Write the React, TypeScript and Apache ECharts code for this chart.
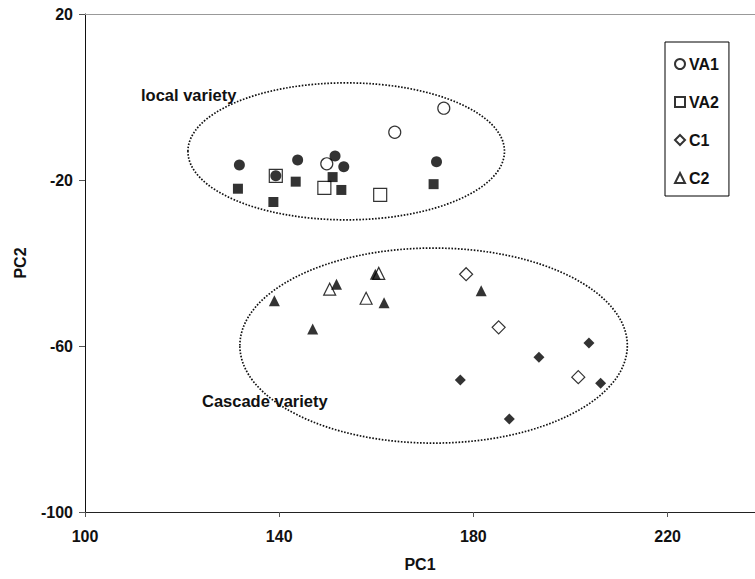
import React, { useEffect, useRef } from "react";
import * as echarts from "echarts";

// PC1, PC2 values
const va1Open: number[][] = [[173.9, -2.7], [163.8, -8.5], [149.8, -16.1]];
const va1Filled: number[][] = [[131.8, -16.4], [139.3, -19.0], [143.8, -15.2], [151.5, -14.2], [153.3, -16.8], [172.4, -15.6]];
const va2Open: number[][] = [[139.3, -19.0], [149.3, -21.9], [160.8, -23.6]];
const va2Filled: number[][] = [[131.5, -22.1], [143.4, -20.4], [138.8, -25.3], [151.0, -19.3], [152.8, -22.4], [171.8, -21.0]];
const c1Open: number[][] = [[178.5, -42.7], [185.2, -55.5], [201.6, -67.5]];
const c1Filled: number[][] = [[203.8, -59.3], [193.5, -62.7], [177.3, -68.2], [206.2, -69.0], [187.4, -77.6]];
const c2Open: number[][] = [[150.4, -46.3], [160.5, -42.5], [157.9, -48.5]];
const c2Filled: number[][] = [[139.0, -49.1], [151.8, -45.1], [159.8, -42.7], [161.6, -49.6], [146.9, -55.9], [181.6, -46.7]];

// ellipses: center x, center y, radius x, radius y (data units)
const ellipseCenters: number[][] = [[153.8, -13.1], [171.8, -59.9]];
const ellipseRadii: number[][] = [[32.6, 16.5], [39.9, 23.5]];

const legendNames = ["VA1", "VA2", "C1", "C2"];
const xTicks = { min: 100, max: 238, interval: 40 };
const yTicks = { min: -100, max: 20, interval: 40 };
const groupLabels = ["local variety", "Cascade variety"];

const FONT = "'Liberation Sans', Arial, Helvetica, sans-serif";

export default function App() {
  const ref = useRef<HTMLDivElement>(null);
  useEffect(() => {
    document.body.style.margin = "0";
    if (!ref.current) return;
    const chart = echarts.init(ref.current, undefined, { renderer: "svg" });
    const openStyle = { color: "#ffffff", borderColor: "#000000", borderWidth: 1.2 };
    const filledStyle = { color: "#000000", borderColor: "#000000", borderWidth: 0 };
    const sc = (name: string, data: number[][], symbol: string, size: number, style: any) => ({
      type: "scatter",
      name,
      data,
      symbol,
      symbolSize: size,
      itemStyle: style,
      silent: true,
    });
    const ellipses = ellipseCenters.map((c, i) => [c[0], c[1], ellipseRadii[i][0], ellipseRadii[i][1]]);
    chart.setOption({
      animation: false,
      backgroundColor: "#ffffff",
      textStyle: { fontFamily: FONT },
      grid: { left: 85, right: 0, top: 14, bottom: 67, outerBoundsMode: "none" },
      legend: {
        data: legendNames,
        orient: "vertical",
        left: 665,
        top: 42,
        padding: [14, 10, 10, 9],
        itemGap: 22,
        itemWidth: 10,
        itemHeight: 10,
        borderColor: "#000",
        borderWidth: 1,
        backgroundColor: "#fff",
        textStyle: { fontFamily: FONT, fontWeight: "bold", fontSize: 16, color: "#111", padding: [0, 0, 0, -1] },
        selectedMode: false,
      },
      xAxis: [
        {
          type: "value",
          min: xTicks.min,
          max: xTicks.max,
          interval: xTicks.interval,
          name: "PC1",
          nameLocation: "middle",
          nameGap: 44,
          nameTextStyle: { fontFamily: FONT, fontWeight: "bold", fontSize: 16, color: "#111" },
          axisLine: { show: true, onZero: false, lineStyle: { color: "#222", width: 1 } },
          axisTick: { show: true, length: 5, lineStyle: { color: "#555" } },
          axisLabel: { margin: 16, showMaxLabel: false, fontFamily: FONT, fontWeight: "bold", fontSize: 16, color: "#111" },
          splitLine: { show: false },
        },
        {
          type: "value",
          position: "top",
          min: xTicks.min,
          max: xTicks.max,
          axisLine: { show: true, onZero: false, lineStyle: { color: "#999", width: 1 } },
          axisTick: { show: false },
          axisLabel: { show: false },
          splitLine: { show: false },
        },
      ],
      yAxis: {
        type: "value",
        min: yTicks.min,
        max: yTicks.max,
        interval: yTicks.interval,
        name: "PC2",
        nameLocation: "middle",
        nameGap: 57,
        nameTextStyle: { fontFamily: FONT, fontWeight: "bold", fontSize: 16, color: "#111" },
        axisLine: { show: true, onZero: false, lineStyle: { color: "#111", width: 1 } },
        axisTick: { show: true, length: 6, lineStyle: { color: "#555" } },
        axisLabel: { margin: 12, fontFamily: FONT, fontWeight: "bold", fontSize: 16, color: "#111" },
        splitLine: { show: false },
      },
      graphic: [
        {
          type: "text",
          left: 141,
          top: 86,
          style: { text: groupLabels[0], font: `bold 16.5px ${FONT}`, fill: "#111" },
        },
        {
          type: "text",
          left: 202,
          top: 392,
          style: { text: groupLabels[1], font: `bold 16.5px ${FONT}`, fill: "#111" },
        },
      ],
      series: [
        {
          type: "custom",
          name: "ellipse",
          data: ellipses,
          silent: true,
          encode: { x: 0, y: 1 },
          renderItem: (params: any, api: any) => {
            const c = api.coord([api.value(0), api.value(1)]);
            const s = api.size([api.value(2), api.value(3)]);
            return {
              type: "ellipse",
              shape: { cx: c[0], cy: c[1], rx: s[0], ry: s[1] },
              style: { fill: "none", stroke: "#111", lineWidth: 1.7, lineDash: [1.6, 1.6] },
            };
          },
          z: 1,
        },
        sc("VA1", va1Open, "circle", 12, openStyle),
        sc("VA2", va2Open, "rect", 13, openStyle),
        sc("C1", c1Open, "diamond", 13, openStyle),
        sc("C2", c2Open, "triangle", 12, openStyle),
        sc("VA1f", va1Filled, "circle", 11, filledStyle),
        sc("VA2f", va2Filled, "rect", 10, filledStyle),
        sc("C1f", c1Filled, "diamond", 11, filledStyle),
        sc("C2f", c2Filled, "triangle", 11, filledStyle),
      ],
    });
    return () => chart.dispose();
  }, []);
  return <div ref={ref} style={{ width: 755, height: 579 }} />;
}
